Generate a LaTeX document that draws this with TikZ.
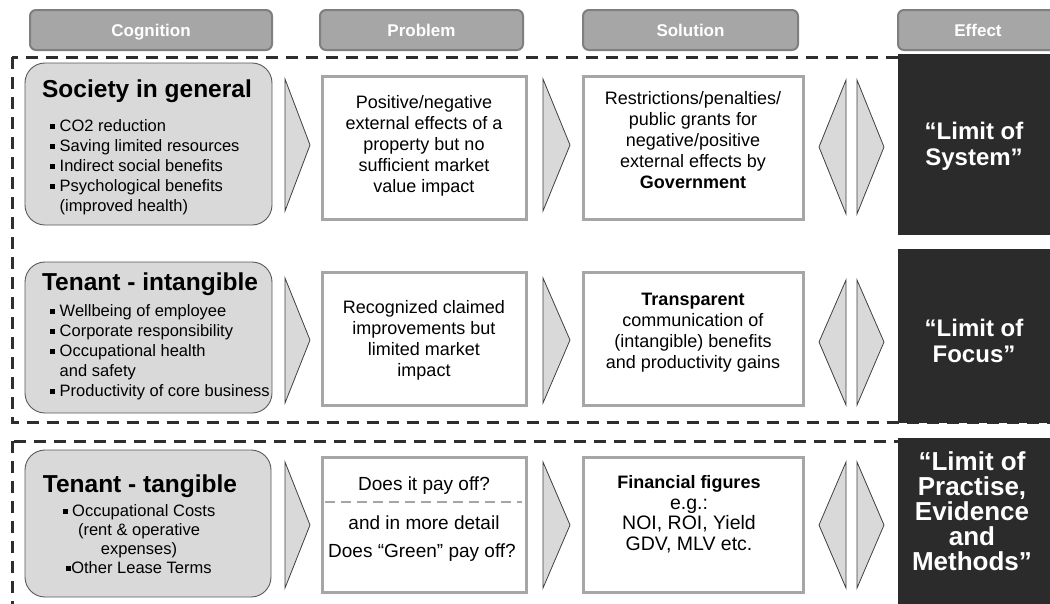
\documentclass[tikz,border=0pt]{standalone}
\usepackage{fontspec}
\setmainfont{Liberation Sans}
\definecolor{dashc}{HTML}{2E2E2E}
\definecolor{tabfill}{HTML}{A6A6A6}
\definecolor{tabline}{HTML}{7F7F7F}
\definecolor{cogfill}{HTML}{D9D9D9}
\definecolor{cogline}{HTML}{595959}
\definecolor{boxline}{HTML}{A6A6A6}
\definecolor{effbg}{HTML}{2B2B2B}
\definecolor{chevline}{HTML}{404040}
\newcommand{\bul}{\rule[0.16em]{0.3em}{0.3em}}
\begin{document}
\begin{tikzpicture}[x=1pt,y=-1pt,
  tab/.style={draw=tabline, fill=tabfill, line width=2pt, rounded corners=6pt,
    text=white, font=\bfseries\fontsize{17}{20}\selectfont, inner sep=0pt,
    text height=12pt, text depth=0pt},
  cog/.style={draw=cogline, fill=cogfill, line width=0.9pt, rounded corners=20pt, inner sep=0pt},
  pbox/.style={draw=boxline, fill=white, line width=3pt, inner sep=0pt},
  eff/.style={fill=effbg, inner sep=0pt},
  efftext/.style={text=white, align=center, inner sep=0pt},
  chev/.style={draw=chevline, fill=cogfill, line width=0.8pt, line join=miter},
  frame/.style={draw=dashc, line width=3pt, dash pattern=on 12pt off 8pt},
  title/.style={font=\bfseries\fontsize{24.5}{26}\selectfont, inner sep=0pt},
  items/.style={font=\fontsize{16.5}{20}\selectfont, align=left, inner sep=0pt},
  body/.style={font=\fontsize{18}{21}\selectfont, align=center, inner sep=0pt},
  divider/.style={draw=boxline, line width=2.5pt, dash pattern=on 10pt off 6pt}
]
\useasboundingbox (0,0) rectangle (1050,603);
\clip (0,0) rectangle (1050,603);
\fill[white] (0,0) rectangle (1050,603);

% dashed frames
\draw[frame] (12,57) rectangle (1100,422);
\draw[frame] (12,441) rectangle (1100,650);

% header tabs
\node[tab, minimum width=242pt, minimum height=40pt] (tcog) at (151,30) {Cognition};
\node[tab, minimum width=203pt, minimum height=40pt] (tprob) at (421.5,30) {Problem};
\node[tab, minimum width=215pt, minimum height=40pt] (tsol) at (690.5,30) {Solution};
\node[tab, minimum width=160pt, minimum height=40pt] (teff) at (978,30) {Effect};

% effect boxes
\node[eff, minimum width=160pt, minimum height=181pt] (e1) at (978,144.5) {};
\node[eff, minimum width=160pt, minimum height=174pt] (e2) at (978,336) {};
\node[eff, minimum width=160pt, minimum height=170pt] (e3) at (978,523) {};
\node[efftext, font=\bfseries\fontsize{24}{26}\selectfont] (e1t) at (974,146) {“Limit of\\System”};
\node[efftext, font=\bfseries\fontsize{24}{26}\selectfont] (e2t) at (974,341) {“Limit of\\Focus”};
\node[efftext, font=\bfseries\fontsize{26}{25}\selectfont] (e3t) at (972,511) {“Limit of\\Practise,\\Evidence\\and\\Methods”};

% cognition boxes
\node[cog, minimum width=247pt, minimum height=162pt] (c1) at (148.5,144) {};
\node[cog, minimum width=247pt, minimum height=151pt] (c2) at (148.5,337.5) {};
\node[cog, minimum width=246pt, minimum height=147pt] (c3) at (148,523.5) {};

\node[title] (c1t) at (147,91) {Society in general};
\node[items, anchor=north west] (c1l) at (50,119) {\bul\ CO2 reduction\\
\bul\ Saving limited resources\\
\bul\ Indirect social benefits\\
\bul\ Psychological benefits\\
\phantom{\bul\ }(improved health)};

\node[title] (c2t) at (150,284) {Tenant - intangible};
\node[items, anchor=north west] (c2l) at (50,304) {\bul\ Wellbeing of employee\\
\bul\ Corporate responsibility\\
\bul\ Occupational health\\
\phantom{\bul\ }and safety\\
\bul\ Productivity of core business};

\node[title] (c3t) at (140,486) {Tenant - tangible};
\node[items, align=center, font=\fontsize{16.5}{19}\selectfont, anchor=north] (c3l) at (139,504) {\bul\ Occupational Costs\\
(rent \& operative\\
expenses)\\
\bul Other Lease Terms};

% problem boxes
\node[pbox, minimum width=204pt, minimum height=143pt] (p1) at (424,148) {};
\node[pbox, minimum width=204pt, minimum height=133pt] (p2) at (424,338.5) {};
\node[pbox, minimum width=204pt, minimum height=135pt] (p3) at (424,524.5) {};
\node[body] (p1t) at (424,146) {Positive/negative\\external effects of a\\property but no\\sufficient market\\value impact};
\node[body] (p2t) at (424,340) {Recognized claimed\\improvements but\\limited market\\impact};
\node[body, font=\fontsize{19}{21}\selectfont] (p3a) at (424,486) {Does it pay off?};
\draw[divider] (325,502) -- (522,502);
\node[body, font=\fontsize{19}{21}\selectfont] (p3b) at (424,523) {and in more detail};
\node[body, font=\fontsize{19}{21}\selectfont] (p3c) at (422,553) {Does “Green” pay off?};

% solution boxes
\node[pbox, minimum width=220pt, minimum height=143pt] (s1) at (693,148) {};
\node[pbox, minimum width=220pt, minimum height=133pt] (s2) at (693,338.5) {};
\node[pbox, minimum width=220pt, minimum height=135pt] (s3) at (693,524.5) {};
\node[body] (s1t) at (693,140) {Restrictions/penalties/\\public grants for\\negative/positive\\external effects by\\\textbf{Government}};
\node[body] (s2t) at (693,333) {\textbf{Transparent}\\communication of\\(intangible) benefits\\and productivity gains};
\node[body, font=\fontsize{19.5}{20.5}\selectfont] (s3t) at (689,514) {{\bfseries\fontsize{18}{20.5}\selectfont Financial figures}\\e.g.:\\NOI, ROI, Yield\\GDV, MLV etc.};

% chevrons cognition -> problem
\draw[chev] (285,79) -- (310,145) -- (285,211) -- cycle;
\draw[chev] (285,278) -- (310,340) -- (285,403) -- cycle;
\draw[chev] (285,462) -- (310,525) -- (285,588) -- cycle;
% chevrons problem -> solution
\draw[chev] (543,79) -- (570,145) -- (543,211) -- cycle;
\draw[chev] (543,278) -- (570,340) -- (543,403) -- cycle;
\draw[chev] (543,462) -- (570,525) -- (543,588) -- cycle;
% double chevrons solution <-> effect
\draw[chev] (846,80) -- (819,147) -- (846,214) -- cycle;
\draw[chev] (857,80) -- (884,147) -- (857,214) -- cycle;
\draw[chev] (846,280) -- (819,342) -- (846,405) -- cycle;
\draw[chev] (857,280) -- (884,342) -- (857,405) -- cycle;
\draw[chev] (846,462) -- (819,525) -- (846,588) -- cycle;
\draw[chev] (857,462) -- (884,525) -- (857,588) -- cycle;
\end{tikzpicture}
\end{document}
